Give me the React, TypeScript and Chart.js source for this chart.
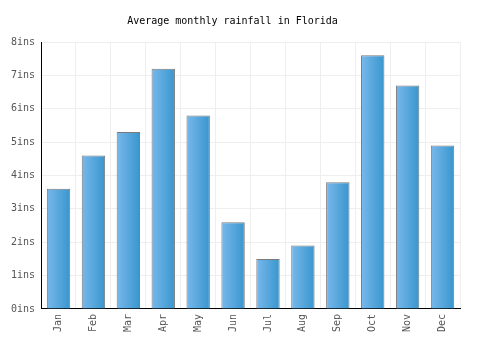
import React, { useEffect, useRef } from "react";
import { Chart, registerables } from "chart.js";

Chart.register(...registerables);

const months = ["Jan", "Feb", "Mar", "Apr", "May", "Jun", "Jul", "Aug", "Sep", "Oct", "Nov", "Dec"];
const rainfall = [3.6, 4.6, 5.3, 7.2, 5.8, 2.6, 1.5, 1.9, 3.8, 7.6, 6.7, 4.9];
const yTicks = [0, 1, 2, 3, 4, 5, 6, 7, 8];

export default function App() {
  const ref = useRef<HTMLCanvasElement | null>(null);
  useEffect(() => {
    document.body.style.margin = "0";
    const canvas = ref.current;
    if (!canvas) return;
    const BAR_PCT = 0.67;
    const chart = new Chart(canvas, {
      type: "bar",
      data: {
        labels: months,
        datasets: [
          {
            data: rainfall,
            borderColor: "#7a7a7a",
            borderWidth: 1,
            borderSkipped: "bottom",
            barPercentage: BAR_PCT,
            categoryPercentage: 1,
            backgroundColor: (c: any) => {
              const chart = c.chart;
              const xs = chart.scales?.x;
              if (!xs || c.dataIndex === undefined) return "#5aaae0";
              const center = xs.getPixelForValue(c.dataIndex);
              const w = (xs.width / months.length) * BAR_PCT;
              if (!isFinite(center) || !isFinite(w) || w <= 0) return "#5aaae0";
              const g = chart.ctx.createLinearGradient(center - w / 2, 0, center + w / 2, 0);
              g.addColorStop(0, "#78b8ec");
              g.addColorStop(1, "#3896cd");
              return g;
            },
          },
        ],
      },
      options: {
        animation: false,
        responsive: false,
        layout: { padding: { left: 5, right: 40, top: 6, bottom: 13 } },
        plugins: {
          legend: { display: false },
          tooltip: { enabled: false },
          title: {
            display: true,
            text: "Average monthly rainfall in Florida",
            color: "#000",
            font: { family: "'DejaVu Sans Mono'", size: 10, weight: "normal" },
            padding: { top: 9, bottom: 15 },
          },
        },
        scales: {
          x: {
            grid: { color: "#eeeeee", offset: true, drawTicks: false },
            border: { color: "#000", width: 1 },
            ticks: {
              color: "#555",
              font: { family: "'DejaVu Sans Mono'", size: 10 },
              maxRotation: 90,
              minRotation: 90,
              padding: 5,
            },
          },
          y: {
            min: 0,
            max: 8,
            afterBuildTicks: (axis: any) => {
              axis.ticks = yTicks.map((v) => ({ value: v }));
            },
            grid: { color: "#eeeeee", drawTicks: false },
            border: { color: "#000", width: 1 },
            ticks: {
              color: "#555",
              font: { family: "'DejaVu Sans Mono'", size: 10 },
              padding: 6,
              callback: (v: any) => v + "ins",
            },
          },
        },
      },
    });
    return () => chart.destroy();
  }, []);
  return (
    <div style={{ width: 500, height: 350 }}>
      <canvas ref={ref} width={500} height={350} />
    </div>
  );
}
